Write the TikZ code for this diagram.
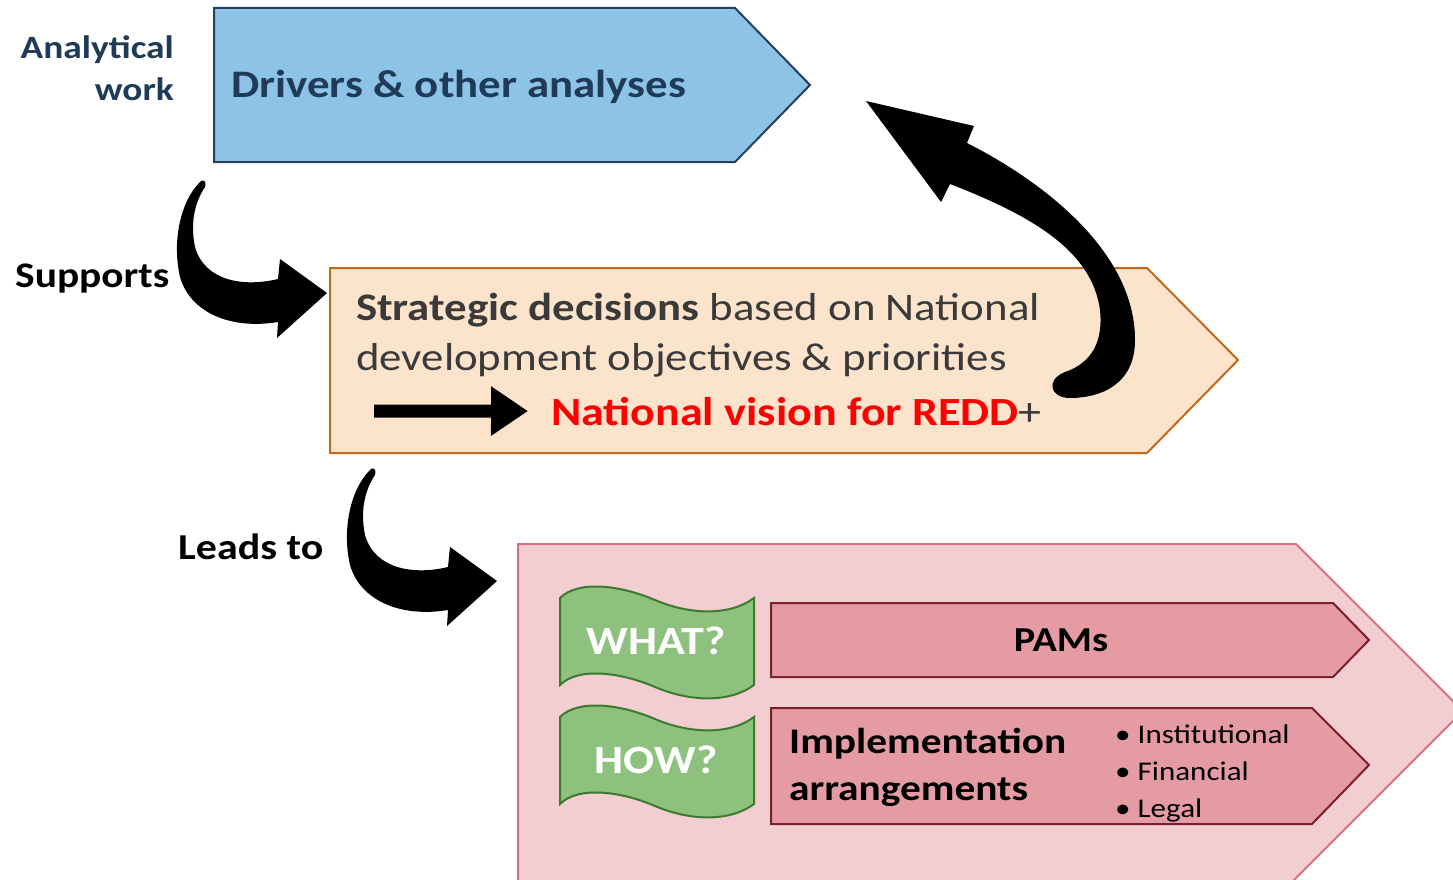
\documentclass[tikz,border=0pt]{standalone}
\usepackage{fontspec}
\setmainfont{Carlito}[FakeStretch=1.15]
\usetikzlibrary{arrows.meta}

\definecolor{navy}{HTML}{1F3B57}
\definecolor{skyfill}{HTML}{8DC3E6}
\definecolor{skyline}{HTML}{24405C}
\definecolor{peach}{HTML}{FCE4CC}
\definecolor{rust}{HTML}{C26A1B}
\definecolor{textgray}{HTML}{3A3A3A}
\definecolor{rosefill}{HTML}{F2CED3}
\definecolor{roseline}{HTML}{D9707E}
\definecolor{pamfill}{HTML}{E49BA3}
\definecolor{pamline}{HTML}{7A1F2B}
\definecolor{leaf}{HTML}{8EC07E}
\definecolor{leafline}{HTML}{3C7A2E}

\tikzset{
  box/.style={line width=2pt, line join=miter},
  lbl/.style={font=\fontsize{36}{44}\selectfont\bfseries, inner sep=0pt},
  flag/.style={fill=leaf, draw=leafline, line width=2pt},
  pics/bentarrow/.style={code={
    \fill (0,0) .. controls (-20,20) and (-28,60) .. (-20,95)
      .. controls (-10,130) and (30,148) .. (78,140)
      -- (77,156) -- (127,111) -- (80,77) -- (78,97)
      .. controls (45,105) and (5,100) .. (-5,65)
      .. controls (-10,40) and (-5,20) .. (5,5)
      .. controls (7,-2) and (2,-3) .. (0,0) -- cycle;
  }},
  pics/wave/.style={code={
    \draw[flag] (0,0) .. controls (18,-18) and (60,-13) .. (95,2)
      .. controls (130,17) and (170,18) .. (194,0) -- (194,87)
      .. controls (170,105) and (130,104) .. (95,89)
      .. controls (60,74) and (18,69) .. (0,87) -- cycle;
  }}
}

\begin{document}
\begin{tikzpicture}[x=1pt, y=-1pt]
  \useasboundingbox (0,0) rectangle (1453,880);
  \clip (0,0) rectangle (1453,880);

  % chevrons
  \draw[box, fill=skyfill, draw=skyline] (214,8) -- (735,8) -- (810,85) -- (735,162) -- (214,162) -- cycle;
  \draw[box, fill=peach, draw=rust] (330,268) -- (1147,268) -- (1238,360) -- (1147,453) -- (330,453) -- cycle;
  \draw[box, fill=rosefill, draw=roseline] (518,900) -- (518,544) -- (1296,544) -- (1463,711) -- (1274,900) -- cycle;
  \draw[box, fill=pamfill, draw=pamline] (771,603) -- (1333,603) -- (1369,640) -- (1333,677) -- (771,677) -- cycle;
  \draw[box, fill=pamfill, draw=pamline] (771,708) -- (1312,708) -- (1369,765) -- (1312,824) -- (771,824) -- cycle;

  \pic at (560,598) {wave};
  \pic at (560,717) {wave};

  % side labels
  \node[lbl, text=navy, anchor=base east, align=right, font=\fontsize{32.5}{42}\selectfont\bfseries] (analytical) at (174,101) {Analytical\\work};
  \node[lbl, anchor=base west] (supports) at (15,287) {Supports};
  \node[lbl, anchor=base west, font=\fontsize{36.5}{44}\selectfont\bfseries] (leads) at (178,559) {Leads to};

  % box texts
  \node[lbl, text=navy, anchor=base west, font=\fontsize{39}{49}\selectfont\bfseries] (drivers) at (231,98) {Drivers \& other analyses};
  \node[lbl, text=textgray, anchor=base west, align=left, font=\fontsize{39}{50}\selectfont] (strategic) at (356,370)
    {\textbf{Strategic decisions} based on National\\development objectives \& priorities};
  \node[lbl, text=textgray, anchor=base west, font=\fontsize{40}{46}\selectfont] (vision) at (551,425)
    {\textbf{\color{red}National vision for REDD}+};
  \node[lbl, text=white, font=\fontsize{40}{46}\selectfont\bfseries] (what) at (656,641) {WHAT?};
  \node[lbl, text=white, font=\fontsize{40}{46}\selectfont\bfseries] (how) at (656,760) {HOW?};
  \node[lbl, font=\fontsize{35}{44}\selectfont\bfseries] (pams) at (1061,640) {PAMs};
  \node[lbl, anchor=base west, align=left, font=\fontsize{36}{47}\selectfont\bfseries] (impl) at (789,800)
    {Implementation\\arrangements};
  \node[lbl, anchor=base west, align=left, font=\fontsize{27}{37}\selectfont] (kinds) at (1115,817)
    {\textbullet\ Institutional\\\textbullet\ Financial\\\textbullet\ Legal};

  % arrows
  \coordinate (vtail) at (374,411);
  \draw[line width=13pt, -{Triangle[length=37pt,width=47pt]}] (vtail) -- ([xshift=-23pt]vision.west);
  \pic at (200,182) {bentarrow};
  \pic at (370,470) {bentarrow};
  \fill (866,101) -- (974,126) -- (967,143)
    .. controls (1040,180) and (1135,250) .. (1135,340)
    .. controls (1135,385) and (1100,398) .. (1070,398)
    .. controls (1050,398) and (1045,380) .. (1065,372)
    .. controls (1100,360) and (1102,330) .. (1100,310)
    .. controls (1092,250) and (1030,215) .. (950,184)
    -- (941,202) -- cycle;
\end{tikzpicture}
\end{document}
